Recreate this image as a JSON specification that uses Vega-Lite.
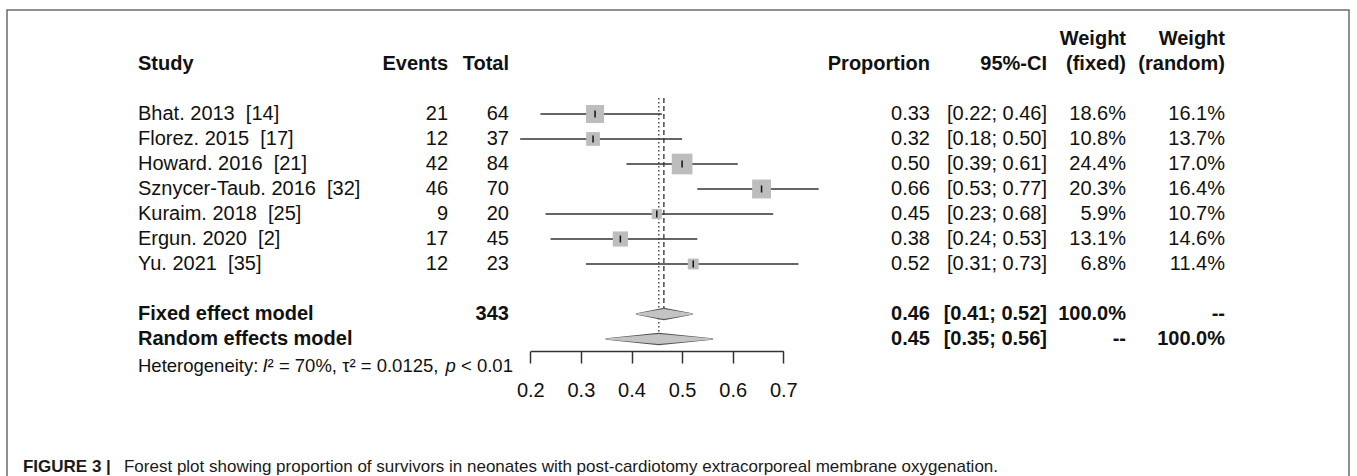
{
  "$schema": "https://vega.github.io/schema/vega-lite/v6.json",
  "width": 1342,
  "height": 468,
  "autosize": {"type": "none"},
  "padding": {"left": 7, "top": 10, "right": 8, "bottom": -2},
  "background": "white",
  "config": {
    "view": {"stroke": "#6b6b6b", "strokeWidth": 1.5},
    "text": {"font": "Liberation Sans", "fontSize": 20, "color": "#111111", "baseline": "middle"},
    "axis": {
      "grid": false,
      "domainColor": "#333333",
      "domainWidth": 1.5,
      "tickColor": "#333333",
      "tickWidth": 1.5,
      "tickSize": 12,
      "labelFont": "Liberation Sans",
      "labelFontSize": 20,
      "labelColor": "#111111",
      "labelPadding": 17
    }
  },
  "resolve": {"scale": {"size": "independent"}},
  "datasets": {
    "studies": [
      {"study": "Bhat. 2013\u00a0 [14]", "events": 21, "total": 64, "prop": 0.328, "lo": 0.22, "hi": 0.46, "ci": "[0.22; 0.46]", "wfixed": 0.186, "wrandom": 0.161},
      {"study": "Florez. 2015\u00a0 [17]", "events": 12, "total": 37, "prop": 0.324, "lo": 0.18, "hi": 0.50, "ci": "[0.18; 0.50]", "wfixed": 0.108, "wrandom": 0.137},
      {"study": "Howard. 2016\u00a0 [21]", "events": 42, "total": 84, "prop": 0.5, "lo": 0.39, "hi": 0.61, "ci": "[0.39; 0.61]", "wfixed": 0.244, "wrandom": 0.170},
      {"study": "Sznycer-Taub. 2016\u00a0 [32]", "events": 46, "total": 70, "prop": 0.657, "lo": 0.53, "hi": 0.77, "ci": "[0.53; 0.77]", "wfixed": 0.203, "wrandom": 0.164},
      {"study": "Kuraim. 2018\u00a0 [25]", "events": 9, "total": 20, "prop": 0.45, "lo": 0.23, "hi": 0.68, "ci": "[0.23; 0.68]", "wfixed": 0.059, "wrandom": 0.107},
      {"study": "Ergun. 2020\u00a0 [2]", "events": 17, "total": 45, "prop": 0.378, "lo": 0.24, "hi": 0.53, "ci": "[0.24; 0.53]", "wfixed": 0.131, "wrandom": 0.146},
      {"study": "Yu. 2021\u00a0 [35]", "events": 12, "total": 23, "prop": 0.522, "lo": 0.31, "hi": 0.73, "ci": "[0.31; 0.73]", "wfixed": 0.068, "wrandom": 0.114}
    ],
    "models": [
      {"model": "Fixed effect model", "n": "343", "est": 0.464, "lo": 0.41, "hi": 0.52, "ci": "[0.41; 0.52]", "wfixed": "100.0%", "wrandom": "--"},
      {"model": "Random effects model", "n": "", "est": 0.454, "lo": 0.35, "hi": 0.56, "ci": "[0.35; 0.56]", "wfixed": "--", "wrandom": "100.0%"}
    ],
    "headers": [
      {"line": "weighthdr", "col": "wf", "label": "Weight"},
      {"line": "weighthdr", "col": "wr", "label": "Weight"},
      {"line": "header", "col": "study", "label": "Study"},
      {"line": "header", "col": "events", "label": "Events"},
      {"line": "header", "col": "total", "label": "Total"},
      {"line": "header", "col": "prop", "label": "Proportion"},
      {"line": "header", "col": "ci", "label": "95%-CI"},
      {"line": "header", "col": "wf", "label": "(fixed)"},
      {"line": "header", "col": "wr", "label": "(random)"}
    ],
    "notes": [
      {"line": "het", "part": "h1", "label": "Heterogeneity:"},
      {"line": "het", "part": "h2", "label": "I"},
      {"line": "het", "part": "h3", "label": "² = 70%, τ² = 0.0125,"},
      {"line": "het", "part": "h4", "label": "p"},
      {"line": "het", "part": "h5", "label": "< 0.01"},
      {"line": "caption", "part": "fig", "label": "FIGURE 3 |"},
      {"line": "caption", "part": "text", "label": "Forest plot showing proportion of survivors in neonates with post-cardiotomy extracorporeal membrane oxygenation."}
    ]
  },
  "layer": [
    {
      "data": {"name": "studies"},
      "mark": {"type": "rule", "color": "#333333", "strokeWidth": 1.5},
      "encoding": {
        "x": {
          "field": "lo", "type": "quantitative",
          "scale": {"domain": [0.2, 0.7], "range": [523.3, 776.3], "zero": false, "nice": false},
          "axis": {"values": [0.2, 0.3, 0.4, 0.5, 0.6, 0.7], "format": ".1f", "title": null, "offset": -127, "labelFlush": false, "labelOverlap": false}
        },
        "x2": {"field": "hi"},
        "y": {
          "field": "study", "type": "nominal", "axis": null,
          "scale": {
            "type": "point", "padding": 0, "range": [29, 454],
            "domain": ["weighthdr", "header", "gap1",
              "Bhat. 2013\u00a0 [14]", "Florez. 2015\u00a0 [17]", "Howard. 2016\u00a0 [21]", "Sznycer-Taub. 2016\u00a0 [32]", "Kuraim. 2018\u00a0 [25]", "Ergun. 2020\u00a0 [2]", "Yu. 2021\u00a0 [35]",
              "gap2", "Fixed effect model", "Random effects model", "het", "axis", "gap3", "gap4", "caption"]
          }
        }
      }
    },
    {
      "data": {"name": "models"},
      "transform": [{"filter": "datum.model === 'Fixed effect model'"}],
      "mark": {"type": "rule", "color": "#333333", "strokeWidth": 1.3, "strokeDash": [5, 3], "yOffset": 9, "y2Offset": -6},
      "encoding": {
        "x": {"field": "est", "type": "quantitative"},
        "y": {"datum": "gap1", "type": "nominal"},
        "y2": {"datum": "Fixed effect model"}
      }
    },
    {
      "data": {"name": "models"},
      "transform": [{"filter": "datum.model === 'Random effects model'"}],
      "mark": {"type": "rule", "color": "#333333", "strokeWidth": 1.3, "strokeDash": [1.5, 2.5], "yOffset": 9, "y2Offset": -6},
      "encoding": {
        "x": {"field": "est", "type": "quantitative"},
        "y": {"datum": "gap1", "type": "nominal"},
        "y2": {"datum": "Random effects model"}
      }
    },
    {
      "data": {"name": "studies"},
      "mark": {"type": "point", "shape": "square", "filled": true, "color": "#bdbdbd", "opacity": 1, "strokeWidth": 0},
      "encoding": {
        "x": {"field": "prop", "type": "quantitative"},
        "y": {"field": "study", "type": "nominal"},
        "size": {"field": "wfixed", "type": "quantitative", "legend": null, "scale": {"type": "linear", "zero": true, "domain": [0, 0.244], "range": [0, 428]}}
      }
    },
    {
      "data": {"name": "studies"},
      "mark": {"type": "tick", "color": "#111111", "thickness": 1.5, "size": 7, "opacity": 1},
      "encoding": {
        "x": {"field": "prop", "type": "quantitative"},
        "y": {"field": "study", "type": "nominal"}
      }
    },
    {
      "data": {"name": "models"},
      "transform": [{"fold": ["lo", "est", "hi"], "as": ["key", "val"]}],
      "mark": {"type": "trail", "color": "#555555", "opacity": 1},
      "encoding": {
        "x": {"field": "val", "type": "quantitative"},
        "y": {"field": "model", "type": "nominal"},
        "detail": {"field": "model"},
        "order": {"field": "val", "type": "quantitative"},
        "size": {"field": "key", "type": "nominal", "legend": null, "scale": {"type": "ordinal", "domain": ["lo", "est", "hi"], "range": [1.5, 12.5, 1.5]}}
      }
    },
    {
      "data": {"name": "models"},
      "transform": [{"fold": ["lo", "est", "hi"], "as": ["key", "val"]}],
      "mark": {"type": "trail", "color": "#c4c4c4", "opacity": 1},
      "encoding": {
        "x": {"field": "val", "type": "quantitative"},
        "y": {"field": "model", "type": "nominal"},
        "detail": {"field": "model"},
        "order": {"field": "val", "type": "quantitative"},
        "size": {"field": "key", "type": "nominal", "legend": null, "scale": {"type": "ordinal", "domain": ["lo", "est", "hi"], "range": [0, 10, 0]}}
      }
    },
    {
      "data": {"name": "studies"},
      "mark": {"type": "text", "align": "left"},
      "encoding": {"x": {"datum": -0.5753}, "y": {"field": "study", "type": "nominal"}, "text": {"field": "study"}}
    },
    {
      "data": {"name": "studies"},
      "mark": {"type": "text", "align": "right"},
      "encoding": {"x": {"datum": 0.0374}, "y": {"field": "study", "type": "nominal"}, "text": {"field": "events", "type": "quantitative"}}
    },
    {
      "data": {"name": "studies"},
      "mark": {"type": "text", "align": "right"},
      "encoding": {"x": {"datum": 0.1579}, "y": {"field": "study", "type": "nominal"}, "text": {"field": "total", "type": "quantitative"}}
    },
    {
      "data": {"name": "studies"},
      "mark": {"type": "text", "align": "right"},
      "encoding": {"x": {"datum": 0.9899}, "y": {"field": "study", "type": "nominal"}, "text": {"field": "prop", "type": "quantitative", "format": ".2f"}}
    },
    {
      "data": {"name": "studies"},
      "mark": {"type": "text", "align": "right"},
      "encoding": {"x": {"datum": 1.2212}, "y": {"field": "study", "type": "nominal"}, "text": {"field": "ci"}}
    },
    {
      "data": {"name": "studies"},
      "mark": {"type": "text", "align": "right"},
      "encoding": {"x": {"datum": 1.3773}, "y": {"field": "study", "type": "nominal"}, "text": {"field": "wfixed", "type": "quantitative", "format": ".1%"}}
    },
    {
      "data": {"name": "studies"},
      "mark": {"type": "text", "align": "right"},
      "encoding": {"x": {"datum": 1.5729}, "y": {"field": "study", "type": "nominal"}, "text": {"field": "wrandom", "type": "quantitative", "format": ".1%"}}
    },
    {
      "data": {"name": "models"},
      "mark": {"type": "text", "align": "left", "fontWeight": "bold"},
      "encoding": {"x": {"datum": -0.5753}, "y": {"field": "model", "type": "nominal"}, "text": {"field": "model"}}
    },
    {
      "data": {"name": "models"},
      "mark": {"type": "text", "align": "right", "fontWeight": "bold"},
      "encoding": {"x": {"datum": 0.1579}, "y": {"field": "model", "type": "nominal"}, "text": {"field": "n"}}
    },
    {
      "data": {"name": "models"},
      "mark": {"type": "text", "align": "right", "fontWeight": "bold"},
      "encoding": {"x": {"datum": 0.9899}, "y": {"field": "model", "type": "nominal"}, "text": {"field": "est", "type": "quantitative", "format": ".2f"}}
    },
    {
      "data": {"name": "models"},
      "mark": {"type": "text", "align": "right", "fontWeight": "bold"},
      "encoding": {"x": {"datum": 1.2212}, "y": {"field": "model", "type": "nominal"}, "text": {"field": "ci"}}
    },
    {
      "data": {"name": "models"},
      "mark": {"type": "text", "align": "right", "fontWeight": "bold"},
      "encoding": {"x": {"datum": 1.3773}, "y": {"field": "model", "type": "nominal"}, "text": {"field": "wfixed"}}
    },
    {
      "data": {"name": "models"},
      "mark": {"type": "text", "align": "right", "fontWeight": "bold"},
      "encoding": {"x": {"datum": 1.5729}, "y": {"field": "model", "type": "nominal"}, "text": {"field": "wrandom"}}
    },
    {
      "data": {"name": "headers"},
      "transform": [{"filter": "datum.col === 'study'"}],
      "mark": {"type": "text", "align": "left", "fontWeight": "bold"},
      "encoding": {"x": {"datum": -0.5753}, "y": {"field": "line", "type": "nominal"}, "text": {"field": "label"}}
    },
    {
      "data": {"name": "headers"},
      "transform": [{"filter": "datum.col === 'events'"}],
      "mark": {"type": "text", "align": "right", "fontWeight": "bold"},
      "encoding": {"x": {"datum": 0.0374}, "y": {"field": "line", "type": "nominal"}, "text": {"field": "label"}}
    },
    {
      "data": {"name": "headers"},
      "transform": [{"filter": "datum.col === 'total'"}],
      "mark": {"type": "text", "align": "right", "fontWeight": "bold"},
      "encoding": {"x": {"datum": 0.1579}, "y": {"field": "line", "type": "nominal"}, "text": {"field": "label"}}
    },
    {
      "data": {"name": "headers"},
      "transform": [{"filter": "datum.col === 'prop'"}],
      "mark": {"type": "text", "align": "right", "fontWeight": "bold"},
      "encoding": {"x": {"datum": 0.9899}, "y": {"field": "line", "type": "nominal"}, "text": {"field": "label"}}
    },
    {
      "data": {"name": "headers"},
      "transform": [{"filter": "datum.col === 'ci'"}],
      "mark": {"type": "text", "align": "right", "fontWeight": "bold"},
      "encoding": {"x": {"datum": 1.2212}, "y": {"field": "line", "type": "nominal"}, "text": {"field": "label"}}
    },
    {
      "data": {"name": "headers"},
      "transform": [{"filter": "datum.col === 'wf'"}],
      "mark": {"type": "text", "align": "right", "fontWeight": "bold"},
      "encoding": {"x": {"datum": 1.3773}, "y": {"field": "line", "type": "nominal"}, "text": {"field": "label"}}
    },
    {
      "data": {"name": "headers"},
      "transform": [{"filter": "datum.col === 'wr'"}],
      "mark": {"type": "text", "align": "right", "fontWeight": "bold"},
      "encoding": {"x": {"datum": 1.5729}, "y": {"field": "line", "type": "nominal"}, "text": {"field": "label"}}
    },
    {
      "data": {"name": "notes"},
      "transform": [{"filter": "datum.part === 'h1'"}],
      "mark": {"type": "text", "align": "left", "fontSize": 18.5, "dy": 2},
      "encoding": {"x": {"datum": -0.5753}, "y": {"field": "line", "type": "nominal"}, "text": {"field": "label"}}
    },
    {
      "data": {"name": "notes"},
      "transform": [{"filter": "datum.part === 'h2'"}],
      "mark": {"type": "text", "align": "left", "fontSize": 18.5, "fontStyle": "italic", "dy": 2},
      "encoding": {"x": {"datum": -0.3294}, "y": {"field": "line", "type": "nominal"}, "text": {"field": "label"}}
    },
    {
      "data": {"name": "notes"},
      "transform": [{"filter": "datum.part === 'h3'"}],
      "mark": {"type": "text", "align": "left", "fontSize": 18.5, "dy": 2},
      "encoding": {"x": {"datum": -0.3192}, "y": {"field": "line", "type": "nominal"}, "text": {"field": "label"}}
    },
    {
      "data": {"name": "notes"},
      "transform": [{"filter": "datum.part === 'h4'"}],
      "mark": {"type": "text", "align": "left", "fontSize": 18.5, "fontStyle": "italic", "dy": 2},
      "encoding": {"x": {"datum": 0.0324}, "y": {"field": "line", "type": "nominal"}, "text": {"field": "label"}}
    },
    {
      "data": {"name": "notes"},
      "transform": [{"filter": "datum.part === 'h5'"}],
      "mark": {"type": "text", "align": "left", "fontSize": 18.5, "dy": 2},
      "encoding": {"x": {"datum": 0.0630}, "y": {"field": "line", "type": "nominal"}, "text": {"field": "label"}}
    },
    {
      "data": {"name": "notes"},
      "transform": [{"filter": "datum.part === 'fig'"}],
      "mark": {"type": "text", "align": "left", "fontSize": 17, "fontWeight": "bold", "dy": 3, "color": "#1a1a1a"},
      "encoding": {"x": {"datum": -0.8026}, "y": {"field": "line", "type": "nominal"}, "text": {"field": "label"}}
    },
    {
      "data": {"name": "notes"},
      "transform": [{"filter": "datum.part === 'text'"}],
      "mark": {"type": "text", "align": "left", "fontSize": 17, "dy": 3, "color": "#1a1a1a"},
      "encoding": {"x": {"datum": -0.6030}, "y": {"field": "line", "type": "nominal"}, "text": {"field": "label"}}
    }
  ]
}
